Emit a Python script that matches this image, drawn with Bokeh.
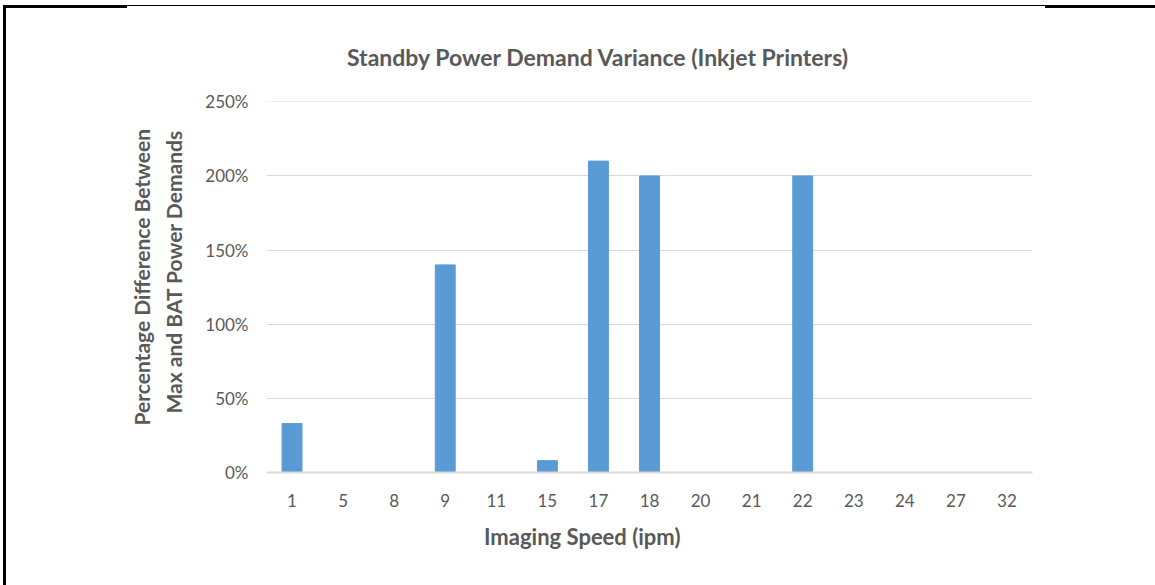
from bokeh.plotting import figure
from bokeh.models import (FactorRange, Range1d, FixedTicker, NumeralTickFormatter,
                          Title, Div)
from bokeh.layouts import row, column
from bokeh.embed import file_html
from bokeh.resources import INLINE

# ---- data ----
speeds = ["1", "5", "8", "9", "11", "15", "17", "18", "20", "21", "22", "23", "24", "27", "32"]
variance = [0.33, 0, 0, 1.40, 0, 0.08, 2.10, 2.00, 0, 0, 2.00, 0, 0, 0, 0]
y_ticks = [0, 0.5, 1.0, 1.5, 2.0, 2.5]
title_text = "Standby Power Demand Variance (Inkjet Printers)"
x_label = "Imaging Speed (ipm)"
y_label_1 = "Percentage Difference Between"
y_label_2 = "Max and BAT Power Demands"

FONT = "Lato"
GREY = "#595959"

W, H = 1149, 577
p = figure(width=W, height=H, x_range=FactorRange(factors=speeds, range_padding=0),
           y_range=Range1d(0, 2.502), output_backend="svg", toolbar_location=None,
           min_border_left=260, min_border_right=123, min_border_top=93, min_border_bottom=113)
p.outline_line_color = None
p.background_fill_color = "white"
p.border_fill_color = "white"

p.vbar(x=speeds, top=variance, width=0.39, color="#5b9bd5", line_color="#5b9bd5")

# y axis
p.yaxis.ticker = FixedTicker(ticks=y_ticks)
p.yaxis.formatter = NumeralTickFormatter(format="0%")
p.yaxis.axis_line_color = None
p.yaxis.major_tick_line_color = None
p.yaxis.minor_tick_line_color = None
p.yaxis.major_label_text_font = FONT
p.yaxis.major_label_text_font_size = "17px"
p.yaxis.major_label_text_color = GREY
p.yaxis.major_label_standoff = 12

# x axis
p.xaxis.axis_line_color = "#d9d9d9"
p.xaxis.axis_line_width = 2
p.xaxis.major_tick_line_color = None
p.xaxis.minor_tick_line_color = None
p.xaxis.major_label_text_font = FONT
p.xaxis.major_label_text_font_size = "17px"
p.xaxis.major_label_text_color = GREY
p.xaxis.major_label_standoff = 15

p.xgrid.grid_line_color = None
p.ygrid.grid_line_color = "#d9d9d9"
p.ygrid.grid_line_width = 1

def make_title(text, size, offset, standoff, align="left"):
    return Title(text=text, align=align, offset=offset, standoff=standoff,
                 text_font=FONT, text_font_style="bold", text_font_size=size,
                 text_color=GREY)

p.add_layout(make_title(title_text, "23px", 80.5, 62), "above")
p.add_layout(make_title(x_label, "22px", 217.5, 22), "below")
p.add_layout(make_title(y_label_2, "21px", 59, 34), "left")
p.add_layout(make_title(y_label_1, "21px", 47, -24), "left")

# page frame lines
def blank(w, h, color=None):
    kw = {"styles": {"background-color": color}} if color else {}
    return Div(width=w, height=h, margin=0, **kw)

left_spacer = blank(3, 585)
left_bar = column(blank(3, 5), blank(3, 580, "black"), spacing=0)
top_strip = row(
    column(blank(121, 5), blank(121, 3, "black"), spacing=0),
    column(blank(918, 5), blank(918, 1, "black"), blank(918, 2), spacing=0),
    column(blank(110, 5), blank(110, 3, "black"), spacing=0),
    spacing=0,
)

layout = row(left_spacer, left_bar, column(top_strip, p, spacing=0), spacing=0)

open("out.html", "w").write(file_html(layout, INLINE))
